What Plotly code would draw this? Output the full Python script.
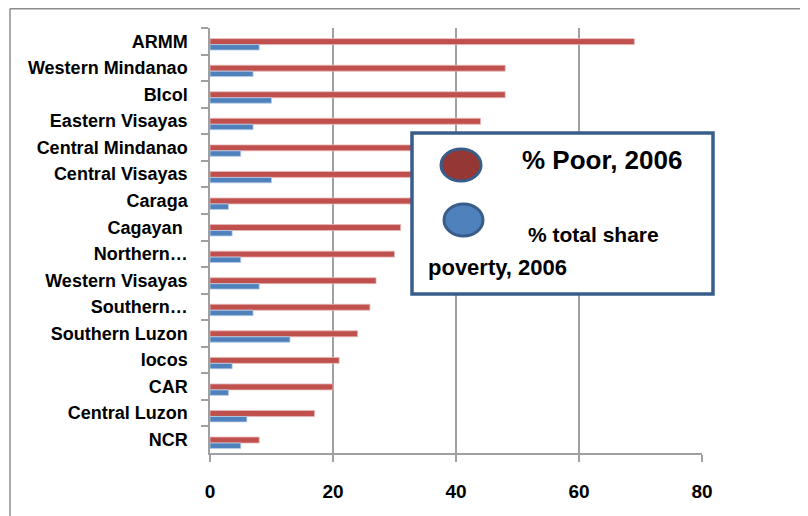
import plotly.graph_objects as go

regions = ["ARMM", "Western Mindanao", "BIcol", "Eastern Visayas", "Central Mindanao",
           "Central Visayas", "Caraga", "Cagayan ", "Northern…", "Western Visayas",
           "Southern…", "Southern Luzon", "Iocos", "CAR", "Central Luzon", "NCR"]
pct_poor_2006 = [69, 48, 48, 44, 40, 37, 33, 31, 30, 27, 26, 24, 21, 20, 17, 8]
pct_share_2006 = [8, 7, 10, 7, 5, 10, 3, 3.6, 5, 8, 7, 13, 3.6, 3, 6, 5]
x_ticks = [0, 20, 40, 60, 80]

W, H = 808, 516
BODY = 8  # page body margin offset
L, R, T, B = 210, 702, 28, 453  # plot area in page pixels

def px(x):
    return (x - L) / (R - L)

def py(y):
    return (B - y) / (B - T)

FONT = "Liberation Sans, Arial, sans-serif"
RED = "#C0504D"
BLUE = "#4F81BD"

fig = go.Figure()
fig.add_trace(go.Bar(
    y=regions, x=pct_poor_2006, orientation="h", name="% Poor, 2006",
    marker=dict(color=RED, line=dict(color="#E6B9B8", width=0.8)),
    offset=-0.1, width=0.225,
))
fig.add_trace(go.Bar(
    y=regions, x=pct_share_2006, orientation="h", name="% total share poverty, 2006",
    marker=dict(color=BLUE, line=dict(color="#B9CDE5", width=0.8)),
    offset=0.125, width=0.205,
))

fig.update_layout(
    width=W, height=H,
    margin=dict(l=L - BODY, r=W - (R - BODY), t=T - BODY, b=H - (B - BODY), pad=0),
    paper_bgcolor="white", plot_bgcolor="white",
    showlegend=False,
    barmode="group",
    font=dict(family=FONT, color="black"),
)
fig.update_xaxes(
    range=[0, 80], tickvals=x_ticks, ticktext=[str(v) for v in x_ticks],
    showgrid=True, gridcolor="#A0A0A0", gridwidth=1.5,
    showline=True, linecolor="#A0A0A0", linewidth=1.5,
    ticks="outside", ticklen=7, tickcolor="#A0A0A0", tickwidth=1.5,
    tickfont=dict(size=19, family=FONT, color="black", weight="bold"),
    ticklabelstandoff=13, zeroline=False,
)
fig.update_yaxes(
    type="category", autorange="reversed",
    showline=True, linecolor="#A0A0A0", linewidth=1.5,
    ticks="outside", ticklen=7, tickcolor="#A0A0A0", tickwidth=1.5,
    tickson="boundaries", showgrid=False,
    tickfont=dict(size=18, family=FONT, color="black", weight="bold"),
    ticklabelstandoff=17,
)

shapes = []
# outer chart border (top and left visible)
shapes.append(dict(type="line", xref="paper", yref="paper", x0=px(10), x1=px(830), y0=py(8.8), y1=py(8.8),
                   line=dict(color="#8C8C8C", width=1.5), layer="above"))
shapes.append(dict(type="line", xref="paper", yref="paper", x0=px(10), x1=px(10), y0=py(8.8), y1=py(540),
                   line=dict(color="#8C8C8C", width=1.5), layer="above"))
# legend box
shapes.append(dict(type="rect", xref="paper", yref="paper", x0=px(412), x1=px(713), y0=py(294), y1=py(133),
                   fillcolor="white", line=dict(color="#385D8A", width=3.5), layer="above"))
# legend markers
shapes.append(dict(type="circle", xref="paper", yref="paper", x0=px(441), x1=px(481), y0=py(181), y1=py(149),
                   fillcolor="#953735", line=dict(color="#385D8A", width=3), layer="above"))
shapes.append(dict(type="circle", xref="paper", yref="paper", x0=px(444), x1=px(483), y0=py(236), y1=py(204),
                   fillcolor=BLUE, line=dict(color="#385D8A", width=3), layer="above"))
fig.update_layout(shapes=shapes)

annotations = [
    dict(text="<b>% Poor, 2006</b>", x=px(520), y=py(160), font=dict(size=26)),
    dict(text="<b>% total share</b>", x=px(526), y=py(234), font=dict(size=21)),
    dict(text="<b>poverty, 2006</b>", x=px(426), y=py(267), font=dict(size=22)),
]
for a in annotations:
    a.update(xref="paper", yref="paper", xanchor="left", yanchor="middle", showarrow=False)
    a["font"].update(family=FONT, color="black")
fig.update_layout(annotations=annotations)

fig.write_html("out.html")
